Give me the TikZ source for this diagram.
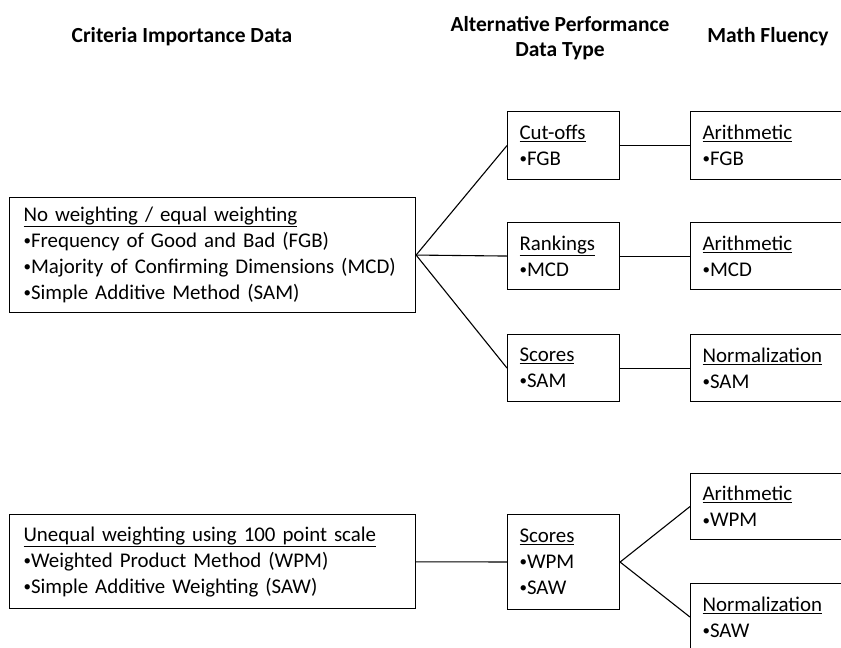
\documentclass[tikz,border=0pt]{standalone}
\usepackage{fontspec}
\setmainfont{Carlito}
\newcommand{\bul}{\raisebox{1.8pt}{\fontsize{15}{26}\selectfont•}}
\begin{document}
\begin{tikzpicture}[
    x=1pt, y=-1pt,
    databox/.style={draw, line width=1.1pt, align=left, anchor=north west,
      inner xsep=12pt, inner ysep=0pt, font=\fontsize{20.9}{26}\selectfont},
    critbox/.style={databox, text width=378pt, inner xsep=14pt},
    typebox/.style={databox, text width=88pt},
    fluentbox/.style={databox, text width=200pt},
    hdr/.style={align=center, font=\fontsize{21.5}{25}\selectfont\bfseries},
    link/.style={line width=1.1pt}
  ]
  \clip (0,0) rectangle (841,648);
  % Draw the column headings.
  \node[hdr] (hcrit) at (182,37) {Criteria Importance Data};
  \node[hdr] (htype) at (560,38) {Alternative Performance\\Data Type};
  \node[hdr] (hmath) at (768,37) {Math Fluency};
  % Draw the criteria boxes.
  \node[critbox, minimum height=115pt] (noweight) at (9,197)
    {\underline{No weighting / equal weighting}\\
     \bul Frequency of Good and Bad (FGB)\\
     \bul Majority of Confirming Dimensions (MCD)\\
     \bul Simple Additive Method (SAM)};
  \node[critbox, minimum height=94pt] (unequal) at (9,514)
    {\underline{Unequal weighting using 100 point scale}\\
     \bul Weighted Product Method (WPM)\\
     \bul Simple Additive Weighting (SAW)};
  % Draw the data type boxes.
  \node[typebox, minimum height=68pt] (cutoffs) at (507,111) {\underline{Cut-offs}\\\bul FGB};
  \node[typebox, minimum height=67pt] (rankings) at (507,222) {\underline{Rankings}\\\bul MCD};
  \node[typebox, minimum height=67pt] (scores) at (507,334) {\underline{Scores}\\\bul SAM};
  \node[typebox, minimum height=95pt] (scoresw) at (507,514) {\underline{Scores}\\\bul WPM\\\bul SAW};
  % Draw the math fluency boxes.
  \node[fluentbox, minimum height=68pt] (arithfgb) at (690,111) {\underline{Arithmetic}\\\bul FGB};
  \node[fluentbox, minimum height=67pt] (arithmcd) at (690,222) {\underline{Arithmetic}\\\bul MCD};
  \node[fluentbox, minimum height=67pt] (normsam) at (690,334) {\underline{Normalization}\\\bul SAM};
  \node[fluentbox, minimum height=66pt] (arithwpm) at (690,473) {\underline{Arithmetic}\\\bul WPM};
  \node[fluentbox, minimum height=67pt] (normsaw) at (690,583) {\underline{Normalization}\\\bul SAW};
  % Draw the links.
  \draw[link] (noweight.east) -- (cutoffs.west);
  \draw[link] (noweight.east) -- (rankings.west);
  \draw[link] (noweight.east) -- (scores.west);
  \draw[link] (cutoffs) -- (arithfgb);
  \draw[link] (rankings) -- (arithmcd);
  \draw[link] (scores) -- (normsam);
  \draw[link] (unequal) -- (scoresw);
  \draw[link] (scoresw.east) -- (arithwpm.west);
  \draw[link] (scoresw.east) -- (normsaw.west);
\end{tikzpicture}
\end{document}
